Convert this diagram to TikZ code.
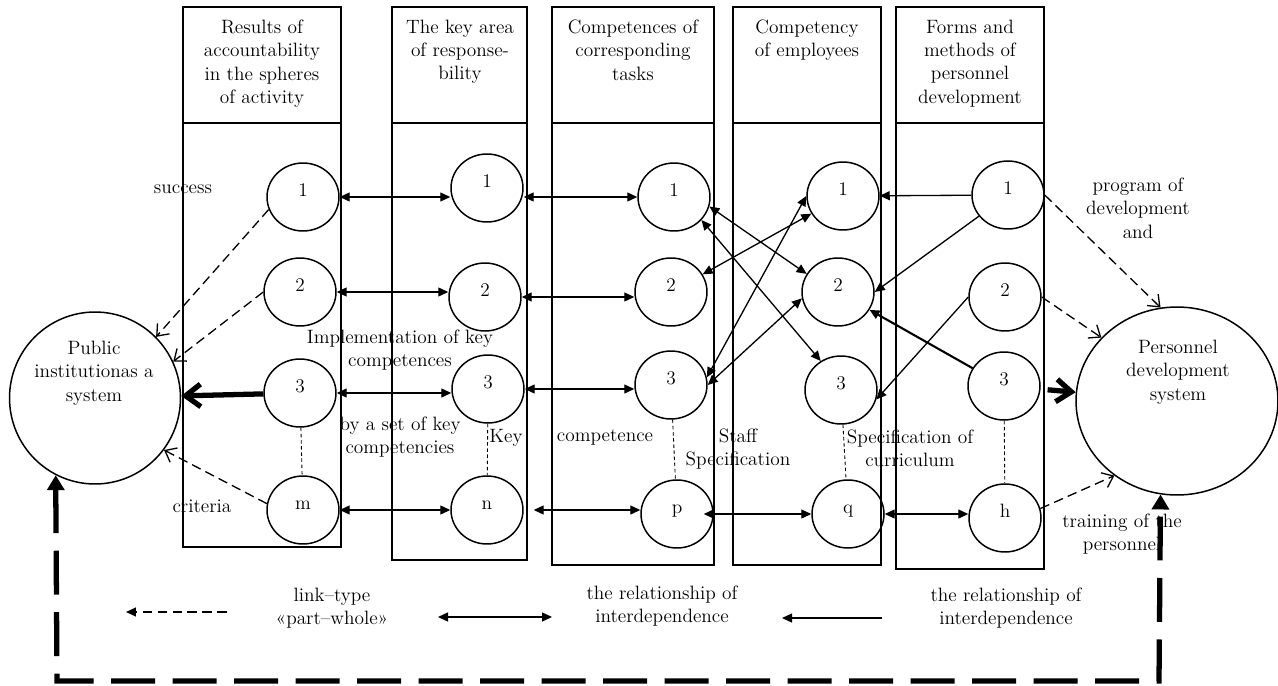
\documentclass[tikz,border=0pt]{standalone}
\usepackage{tikz}
\usetikzlibrary{arrows.meta,shapes.geometric,calc}

\begin{document}
\begin{tikzpicture}[x=0.02cm, y=-0.02cm, line width=0.85pt,
  every node/.style={font=\fontsize{11}{13.3}\selectfont, align=center},
  elt/.style={draw, ellipse, minimum width=1.44cm, minimum height=1.36cm, inner sep=0pt, text height=8pt, text depth=9pt},
  sys/.style={draw, ellipse, inner sep=0pt},
  inter/.style={line width=0.75pt, {Triangle[length=0.2cm,width=0.18cm]}-{Triangle[length=0.2cm,width=0.18cm]}},
  infl/.style={line width=0.75pt, -{Triangle[length=0.2cm,width=0.18cm]}},
  part/.style={line width=0.75pt, dash pattern=on 5.5pt off 3pt, -{Straight Barb[length=0.2cm,width=0.32cm]}},
  heavy/.style={line width=3pt, -{Straight Barb[length=0.3cm,width=0.45cm]}},
  feedback/.style={line width=3pt, dash pattern=on 25pt off 10pt, {Triangle[length=0.3cm,width=0.34cm]}-{Triangle[length=0.3cm,width=0.34cm]}},
  chain/.style={line width=0.5pt, dash pattern=on 2pt off 1.5pt}]
\useasboundingbox (0,0) rectangle (1278,686);

% columns
\foreach \l/\r/\b in {183/341/547,392/527/560,552/714/565,733/881/565,896/1044/569}{
  \draw (\l,7) rectangle (\r,123);
  \draw (\l,123) -- (\l,\b) -- (\r,\b) -- (\r,123);
}
\node[anchor=north, inner sep=0pt] (t1) at (262,19) {Results of\\accountability\\in the spheres\\of activity};
\node[anchor=north, inner sep=0pt] (t2) at (460,19) {The key area\\of response-\\bility};
\node[anchor=north, inner sep=0pt] (t3) at (633,19) {Competences of\\corresponding\\tasks};
\node[anchor=north, inner sep=0pt] (t4) at (807,19) {Competency\\of employees};
\node[anchor=north, inner sep=0pt] (t5) at (970,19) {Forms and\\methods of\\personnel\\development};

% elements
\node[elt] (a1) at (303,197) {1};
\node[elt] (a2) at (300,292) {2};
\node[elt] (a3) at (300,393) {3};
\node[elt] (am) at (303,510) {m};
\node[elt] (b1) at (487,188) {1};
\node[elt] (b2) at (485,297) {2};
\node[elt] (b3) at (488,389) {3};
\node[elt] (bn) at (487,510) {n};
\node[elt] (c1) at (674,197) {1};
\node[elt] (c2) at (671,292) {2};
\node[elt] (c3) at (671,385) {3};
\node[elt] (cp) at (677,514) {p};
\node[elt] (d1) at (843,196) {1};
\node[elt] (d2) at (838,292) {2};
\node[elt] (d3) at (841,390) {3};
\node[elt] (dq) at (848,514) {q};
\node[elt] (e1) at (1008,195) {1};
\node[elt] (e2) at (1005,297) {2};
\node[elt] (e3) at (1004,386) {3};
\node[elt] (eh) at (1005,518) {h};

% systems
\node[sys, minimum width=3.42cm, minimum height=3.44cm] (pub) at (95,398) {};
\node (pubt) at (94,373) {Public\\institutionas a\\system};
\node[sys, minimum width=4.04cm, minimum height=3.76cm] (pers) at (1177,401) {};
\node (perst) at (1178,372) {Personnel\\development\\system};

% labels
\node (lsucc) at (183,189) {success};
\node (limpl) at (400,350) {Implementation of key\\competences};
\node (lset) at (400,437) {by a set of key\\competencies};
\node (lkey) at (506,438) {Key};
\node (lcrit) at (202,506) {criteria};
\node (lcomp) at (605,437) {competence};
\node (lstaff) at (738,449) {Staff\\Specification};
\node (lcurr) at (910,448) {Specification of\\curriculum};
\node (lprog) at (1138,208) {program of\\development\\and};
\node (ltrain) at (1122,534) {training of the\\personnel};

% rows
\draw[inter] (a1) -- (a1 -| b1.west);
\draw[inter] (a2) -- (a2 -| b2.west);
\draw[inter] (a3) -- (a3 -| b3.west);
\draw[inter] (am) -- (bn);
\draw[inter] (c1 -| b1.east) -- (c1);
\draw[inter] (b2) -- (b2 -| c2.west);
\draw[inter] (b3) -- (b3 -| c3.west);
\draw[inter, shorten <=0.2cm] (bn) -- (bn -| cp.west);
\draw[inter, shorten <=-0.2cm] (cp) -- (cp -| dq.west);
\draw[inter] (dq) -- (dq -| eh.west);

% crossings
\draw[inter] (c1.-15) -- (d2.150);
\draw[inter] (c1.-40) -- (d3.125);
\draw[inter] (c2) -- (d1);
\draw[inter] (c3.12) -- (d1.west);
\draw[inter] (c3.east) -- (d2.190);
\draw[infl] (e1) -- (d1);
\draw[infl] (e1) -- (d2.east);
\draw[infl] (e2.west) -- (d3.-15);
\draw[infl, line width=1.2pt] (e3) -- (d2);

\draw[chain] (a3) -- (am);
\draw[chain] (b3) -- (bn);
\draw[chain] (c3) -- (cp);
\draw[chain] (d3) -- (dq);
\draw[chain] (e3) -- (eh);

% part-whole
\draw[part] (a1.200) -- (pub.45);
\draw[part] (a2.west) -- (pub.25);
\draw[part] (am.170) -- (pub.-37);
\draw[part] (e1.east) -- (pers.100);
\draw[part] (e2.east) -- (pers.140);
\draw[part] (eh.15) -- (pers.-130);

\draw[heavy] (a3) -- (pub);
\draw[heavy, shorten <=4pt] (e3) -- (pers);

% feedback loop
\coordinate (fbl) at (57,681);
\coordinate (fbr) at (1159,681);
\draw[feedback] (pub.-117) -- (fbl) -- (fbr) -- (pers.-100);

% legend
\node (lg1) at (332,608) {link–type\\«part–whole»};
\node (lg2) at (662,606) {the relationship of\\interdependence};
\node (lg3) at (1006,608) {the relationship of\\interdependence};
\coordinate (k1a) at (227,612);
\coordinate (k1b) at (126,612);
\coordinate (k2a) at (438,617);
\coordinate (k2b) at (552,617);
\coordinate (k3a) at (882,618);
\coordinate (k3b) at (782,618);
\draw[part, -{Triangle[length=0.2cm,width=0.18cm]}] (k1a) -- (k1b);
\draw[inter] (k2a) -- (k2b);
\draw[infl] (k3a) -- (k3b);
\end{tikzpicture}
\end{document}
